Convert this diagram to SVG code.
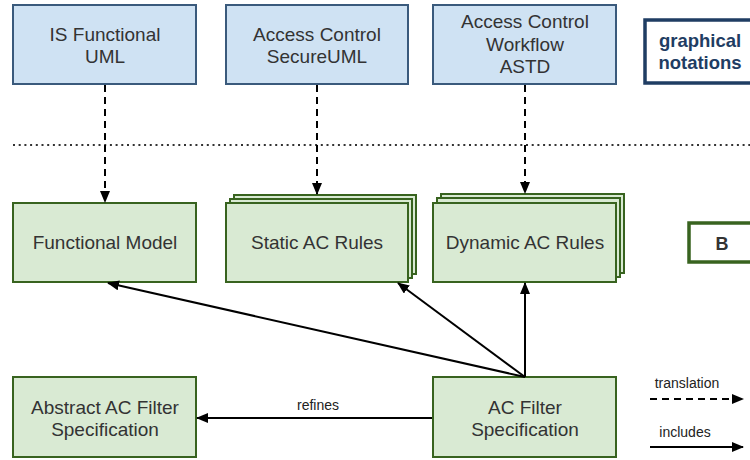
<svg xmlns="http://www.w3.org/2000/svg" width="750" height="460" viewBox="0 0 750 460">
<style>
text{font-family:"Liberation Sans",Arial,sans-serif;fill:#333;text-anchor:middle}
.t{font-size:19px}
.blue{fill:#cfe2f3;stroke:#3a5a7c;stroke-width:2}
.green{fill:#d9ead3;stroke:#38631f;stroke-width:2}
.dash{fill:none;stroke:#000;stroke-width:2;stroke-dasharray:7 5}
.solid{fill:none;stroke:#000;stroke-width:2}
.lbl{font-size:14px;fill:#222}
</style>
<defs>
<marker id="ah" markerUnits="userSpaceOnUse" markerWidth="12" markerHeight="10" refX="11" refY="5" orient="auto">
<path d="M0,0 L12,5 L0,10 Z" fill="#000"/>
</marker>
</defs>
<rect width="750" height="460" fill="#fff"/>
<line x1="13" y1="145" x2="750" y2="145" stroke="#333" stroke-width="2" stroke-dasharray="2 3.7"/>
<g id="is-functional-uml"><rect class="blue" x="13" y="5" width="183" height="79"/><text class="t" x="105" y="41">IS Functional</text><text class="t" x="105" y="63">UML</text></g>
<g id="ac-secureuml"><rect class="blue" x="226" y="5" width="182" height="79"/><text class="t" x="317" y="41">Access Control</text><text class="t" x="317" y="63">SecureUML</text></g>
<g id="ac-workflow-astd"><rect class="blue" x="433" y="5" width="183" height="79"/><text class="t" x="525" y="28">Access Control</text><text class="t" x="525" y="51">Workflow</text><text class="t" x="525" y="73">ASTD</text></g>
<g id="graphical-notations"><rect x="645" y="20" width="115" height="63" fill="#fff" stroke="#1f3d63" stroke-width="3.5"/><text x="700" y="47" style="font-size:18.5px;font-weight:bold;fill:#1f3d63">graphical</text><text x="700" y="69" style="font-size:18.5px;font-weight:bold;fill:#1f3d63">notations</text></g>
<g id="functional-model"><rect class="green" x="13" y="203" width="183" height="79"/><text class="t" x="105" y="249">Functional Model</text></g>
<g id="static-ac-rules"><rect class="green" x="234" y="195" width="182" height="79"/><rect class="green" x="230" y="199" width="182" height="79"/><rect class="green" x="226" y="203" width="182" height="79"/><text class="t" x="317" y="249">Static AC Rules</text></g>
<g id="dynamic-ac-rules"><rect class="green" x="441" y="194" width="183" height="79"/><rect class="green" x="437" y="198" width="183" height="79"/><rect class="green" x="433" y="203" width="183" height="79"/><text class="t" x="525" y="249">Dynamic AC Rules</text></g>
<g id="b"><rect x="689" y="223" width="70" height="39" fill="#fff" stroke="#38631f" stroke-width="3.5"/><text x="722" y="250" style="font-size:18px;font-weight:bold;fill:#333">B</text></g>
<g id="abstract-ac-filter"><rect class="green" x="13" y="377" width="183" height="80"/><text class="t" x="105" y="414">Abstract AC Filter</text><text class="t" x="105" y="436">Specification</text></g>
<g id="ac-filter-spec"><rect class="green" x="433" y="377" width="183" height="80"/><text class="t" x="525" y="414">AC Filter</text><text class="t" x="525" y="436">Specification</text></g>
<g id="connectors">
<line class="dash" x1="105" y1="85" x2="105" y2="202" marker-end="url(#ah)"/>
<line class="dash" x1="317" y1="85" x2="317" y2="194" marker-end="url(#ah)"/>
<line class="dash" x1="525" y1="85" x2="525" y2="193" marker-end="url(#ah)"/>
<line class="solid" x1="525" y1="377" x2="108" y2="283" marker-end="url(#ah)"/>
<line class="solid" x1="525" y1="377" x2="398" y2="283" marker-end="url(#ah)"/>
<line class="solid" x1="525" y1="377" x2="525" y2="283" marker-end="url(#ah)"/>
<line class="solid" x1="432" y1="418" x2="197" y2="418" marker-end="url(#ah)"/>
<text class="lbl" x="318" y="410">refines</text>
</g>
<g id="legend">
<text class="lbl" x="687" y="388">translation</text>
<line class="dash" x1="650" y1="399" x2="743" y2="399" stroke-dasharray="8 5" marker-end="url(#ah)"/>
<text class="lbl" x="685" y="437">includes</text>
<line class="solid" x1="650" y1="447" x2="743" y2="447" marker-end="url(#ah)"/>
</g>
</svg>
